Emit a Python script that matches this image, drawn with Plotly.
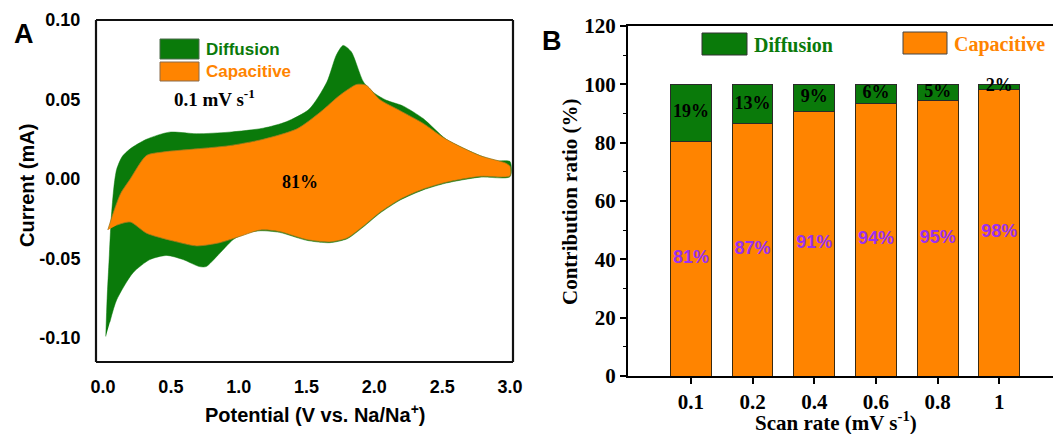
import plotly.graph_objects as go

W, H = 1053, 434

# ---------------- Panel A data (CV at 0.1 mV/s) ----------------
total_upper_x = [0.02, 0.03, 0.045, 0.06, 0.08, 0.10, 0.14, 0.2, 0.32, 0.49, 0.69, 0.93, 1.18, 1.35, 1.52,
                 1.65, 1.72, 1.77, 1.83, 1.92, 2.0, 2.09, 2.21, 2.36, 2.53, 2.78, 2.9, 3.0]
total_upper_y = [-0.099, -0.075, -0.05, -0.025, -0.005, 0.006, 0.014, 0.019, 0.025, 0.0295, 0.0285, 0.0295,
                 0.032, 0.036, 0.044, 0.061, 0.078, 0.084, 0.080, 0.061, 0.054, 0.0495, 0.046, 0.038, 0.025,
                 0.0147, 0.0115, 0.011]
total_lower_x = [3.0, 2.78, 2.53, 2.36, 2.19, 2.04, 1.92, 1.80, 1.67, 1.50, 1.30, 1.16, 1.05, 0.96, 0.84,
                 0.76, 0.71, 0.59, 0.47, 0.345, 0.22, 0.10, 0.05]
total_lower_y = [0.0015, 0.0012, -0.0025, -0.0068, -0.0132, -0.0215, -0.030, -0.0375, -0.040, -0.0385,
                 -0.0335, -0.0325, -0.034, -0.038, -0.0485, -0.055, -0.055, -0.0506, -0.048, -0.0506,
                 -0.059, -0.076, -0.09]

cap_upper_x = [0.035, 0.076, 0.13, 0.2, 0.32, 0.44, 0.69, 0.93, 1.18, 1.43, 1.60, 1.75, 1.87, 1.94, 2.04,
               2.19, 2.36, 2.53, 2.78, 2.97, 3.0]
cap_upper_y = [-0.032, -0.021, -0.009, 0.0, 0.0148, 0.017, 0.019, 0.021, 0.025, 0.0316, 0.042, 0.053,
               0.0595, 0.059, 0.050, 0.043, 0.035, 0.025, 0.0147, 0.010, 0.008]
cap_lower_x = [3.0, 2.78, 2.53, 2.36, 2.19, 2.04, 1.92, 1.80, 1.67, 1.50, 1.30, 1.16, 1.01, 0.86, 0.69,
               0.52, 0.32, 0.2, 0.1]
cap_lower_y = [0.002, 0.0017, -0.002, -0.0063, -0.0127, -0.021, -0.0295, -0.037, -0.0395, -0.038, -0.033,
               -0.032, -0.036, -0.040, -0.042, -0.039, -0.034, -0.027, -0.029]

a_xticks = [0.0, 0.5, 1.0, 1.5, 2.0, 2.5, 3.0]
a_xticklabels = ["0.0", "0.5", "1.0", "1.5", "2.0", "2.5", "3.0"]
a_yticks = [0.10, 0.05, 0.0, -0.05, -0.10]
a_yticklabels = ["0.10", "0.05", "0.00", "-0.05", "-0.10"]
A_XRANGE = [-0.052, 3.022]
A_YRANGE = [-0.115, 0.1]

# ---------------- Panel B data ----------------
scan_rates = ["0.1", "0.2", "0.4", "0.6", "0.8", "1"]
capacitive = [80.5, 86.5, 90.8, 93.4, 94.5, 98.3]
diffusion = [19.5, 13.5, 9.2, 6.6, 5.5, 1.7]
cap_labels = ["81%", "87%", "91%", "94%", "95%", "98%"]
diff_labels = ["19%", "13%", "9%", "6%", "5%", "2%"]

GREEN = "#0a7a0a"
ORANGE = "#ff8400"
PURPLE = "#9b30f0"
SANS = "Liberation Sans, Arial, sans-serif"
SERIF = "Liberation Serif, Times New Roman, serif"
FRAME = "#111111"


def px(x):
    return x / W


def py(y):
    return 1 - y / H


fig = go.Figure()

# Panel A fills
fig.add_trace(go.Scatter(
    x=total_upper_x + total_lower_x, y=total_upper_y + total_lower_y,
    mode="lines", fill="toself", fillcolor=GREEN,
    line=dict(color=GREEN, width=0.5, shape="spline", smoothing=0.7),
    xaxis="x", yaxis="y", showlegend=False, hoverinfo="skip"))
fig.add_trace(go.Scatter(
    x=cap_upper_x + cap_lower_x, y=cap_upper_y + cap_lower_y,
    mode="lines", fill="toself", fillcolor=ORANGE,
    line=dict(color="#a07a20", width=0.8, shape="spline", smoothing=0.7),
    xaxis="x", yaxis="y", showlegend=False, hoverinfo="skip"))

# Panel B bars
fig.add_trace(go.Bar(
    x=scan_rates, y=capacitive, marker=dict(color=ORANGE, line=dict(color="#3a2a10", width=1)),
    width=0.66, xaxis="x2", yaxis="y2", showlegend=False, hoverinfo="skip"))
fig.add_trace(go.Bar(
    x=scan_rates, y=diffusion, marker=dict(color=GREEN, line=dict(color="#2a2a2a", width=1)),
    width=0.66, xaxis="x2", yaxis="y2", showlegend=False, hoverinfo="skip"))

# Bar labels
fig.add_trace(go.Scatter(
    x=scan_rates, y=[c / 2 for c in capacitive], mode="text", text=cap_labels,
    textfont=dict(family=SANS, size=18, color=PURPLE, weight="bold"),
    xaxis="x2", yaxis="y2", showlegend=False, hoverinfo="skip"))
fig.add_trace(go.Scatter(
    x=scan_rates, y=[c + d / 2 for c, d in zip(capacitive, diffusion)], mode="text", text=diff_labels,
    textfont=dict(family=SERIF, size=18, color="black", weight="bold"),
    xaxis="x2", yaxis="y2", showlegend=False, hoverinfo="skip"))

shapes = []
annotations = []

# Panel A frame: four separate line shapes in paper coordinates
A_L, A_R, A_T, A_B = px(96), px(513), py(20), py(362)
for (x0, y0, x1, y1) in [(A_L, A_B, A_R, A_B), (A_L, A_T, A_R, A_T), (A_L, A_B, A_L, A_T), (A_R, A_B, A_R, A_T)]:
    shapes.append(dict(type="line", xref="paper", yref="paper", x0=x0, y0=y0, x1=x1, y1=y1,
                       line=dict(color=FRAME, width=2.2), layer="above"))

# Panel A legend
shapes.append(dict(type="rect", xref="paper", yref="paper", x0=px(160), x1=px(199), y0=py(59), y1=py(39),
                   fillcolor=GREEN, line=dict(color="#4a6a4a", width=1)))
shapes.append(dict(type="rect", xref="paper", yref="paper", x0=px(160), x1=px(199), y0=py(81), y1=py(62),
                   fillcolor=ORANGE, line=dict(color="#8a6a4a", width=1)))
annotations.append(dict(xref="paper", yref="paper", x=px(204), y=py(49), xanchor="left", yanchor="middle",
                        text="Diffusion", showarrow=False,
                        font=dict(family=SANS, size=17, color=GREEN, weight="bold")))
annotations.append(dict(xref="paper", yref="paper", x=px(204), y=py(72), xanchor="left", yanchor="middle",
                        text="Capacitive", showarrow=False,
                        font=dict(family=SANS, size=17, color=ORANGE, weight="bold")))
annotations.append(dict(xref="paper", yref="paper", x=px(172), y=py(98), xanchor="left", yanchor="middle",
                        text="0.1 mV s<sup>-1</sup>", showarrow=False,
                        font=dict(family=SERIF, size=19, color="black", weight="bold")))
annotations.append(dict(xref="x", yref="y", x=1.45, y=-0.002, text="81%", showarrow=False,
                        font=dict(family=SERIF, size=18, color="black", weight="bold")))
annotations.append(dict(xref="paper", yref="paper", x=px(24), y=py(34), text="A", showarrow=False,
                        xanchor="center", yanchor="middle",
                        font=dict(family=SANS, size=27, color="black", weight="bold")))
# Panel A axis titles
annotations.append(dict(xref="paper", yref="paper", x=px(315), y=py(413), text="Potential (V vs. Na/Na<sup>+</sup>)",
                        showarrow=False, xanchor="center", yanchor="middle",
                        font=dict(family=SANS, size=20, color="black", weight="bold")))
annotations.append(dict(xref="paper", yref="paper", x=px(27), y=py(186), text="Current (mA)",
                        showarrow=False, xanchor="center", yanchor="middle", textangle=-90,
                        font=dict(family=SANS, size=20, color="black", weight="bold")))

# Panel B legend
shapes.append(dict(type="rect", xref="paper", yref="paper", x0=px(702), x1=px(747), y0=py(55), y1=py(33),
                   fillcolor=GREEN, line=dict(color="#333333", width=1)))
shapes.append(dict(type="rect", xref="paper", yref="paper", x0=px(903), x1=px(947), y0=py(54), y1=py(32),
                   fillcolor=ORANGE, line=dict(color="#444444", width=1)))
annotations.append(dict(xref="paper", yref="paper", x=px(752), y=py(45), xanchor="left", yanchor="middle",
                        text="Diffusion", showarrow=False,
                        font=dict(family=SERIF, size=20, color=GREEN, weight="bold")))
annotations.append(dict(xref="paper", yref="paper", x=px(952), y=py(44), xanchor="left", yanchor="middle",
                        text="Capacitive", showarrow=False,
                        font=dict(family=SERIF, size=20, color=ORANGE, weight="bold")))
annotations.append(dict(xref="paper", yref="paper", x=px(552), y=py(41), text="B", showarrow=False,
                        xanchor="center", yanchor="middle",
                        font=dict(family=SANS, size=27, color="black", weight="bold")))
# Panel B axis titles
annotations.append(dict(xref="paper", yref="paper", x=px(836), y=py(421), text="Scan rate (mV s<sup>-1</sup>)",
                        showarrow=False, xanchor="center", yanchor="middle",
                        font=dict(family=SERIF, size=21, color="black", weight="bold")))
annotations.append(dict(xref="paper", yref="paper", x=px(570), y=py(202), text="Contribution ratio (%)",
                        showarrow=False, xanchor="center", yanchor="middle", textangle=-90,
                        font=dict(family=SERIF, size=21, color="black", weight="bold")))

fig.update_layout(
    width=W, height=H, margin=dict(l=0, r=0, t=0, b=0, autoexpand=False),
    paper_bgcolor="white", plot_bgcolor="white", template="none",
    barmode="stack", shapes=shapes, annotations=annotations,
    xaxis=dict(domain=[px(96), px(513)], range=A_XRANGE, anchor="y", automargin=False,
               tickvals=a_xticks, ticktext=a_xticklabels, ticks="outside", ticklen=8,
               tickcolor="white", showgrid=False, zeroline=False, showline=False,
               tickfont=dict(family=SANS, size=18, color="black", weight="bold")),
    yaxis=dict(domain=[py(362), py(20)], range=A_YRANGE, anchor="x", automargin=False,
               tickvals=a_yticks, ticktext=a_yticklabels, ticks="outside", ticklen=11,
               tickcolor="white", showgrid=False, zeroline=False, showline=False,
               tickfont=dict(family=SANS, size=18, color="black", weight="bold")),
    xaxis2=dict(domain=[px(628), 1.0], range=[-1.02, 5.87], anchor="y2", type="category", automargin=False,
                ticks="outside", ticklen=6, tickwidth=1.5, tickcolor="black",
                showgrid=False, zeroline=False,
                showline=True, linecolor="black", linewidth=2, mirror=True,
                tickfont=dict(family=SERIF, size=21, color="black", weight="bold")),
    yaxis2=dict(domain=[py(376), py(26)], range=[0, 120], anchor="x2", automargin=False,
                tickvals=[0, 20, 40, 60, 80, 100, 120], ticks="outside", ticklen=6, tickwidth=1.5,
                tickcolor="black",
                minor=dict(dtick=10, ticks="outside", ticklen=3, tickwidth=1.2, tickcolor="black"),
                showgrid=False, zeroline=False,
                showline=True, linecolor="black", linewidth=2,
                tickfont=dict(family=SERIF, size=21, color="black", weight="bold")),
)

fig.write_html("out.html", config={"displayModeBar": False},
               post_script="document.body.style.margin='0';document.body.style.overflow='hidden';")
